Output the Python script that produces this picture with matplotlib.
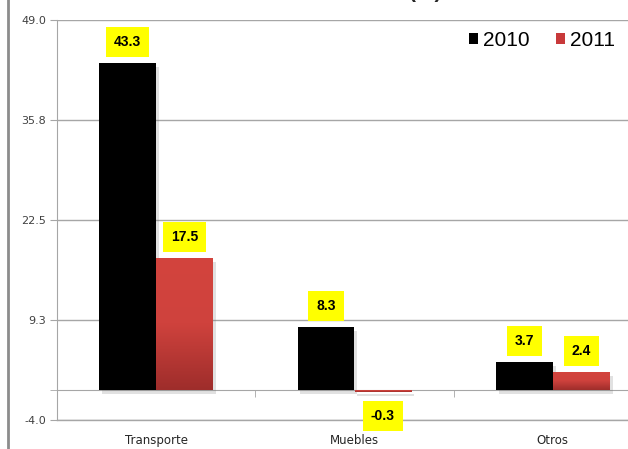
import numpy as np
import matplotlib
matplotlib.use("Agg")
import matplotlib.pyplot as plt
from matplotlib.patches import Patch
from matplotlib.lines import Line2D
import matplotlib.patheffects as pe
from matplotlib.colors import LinearSegmentedColormap

categories = ["Transporte", "Muebles", "Otros"]
series_names = ["2010", "2011"]
values_2010 = [43.3, 8.3, 3.7]
values_2011 = [17.5, -0.3, 2.4]
yticks = [-4.0, 9.3, 22.5, 35.8, 49.0]
ytick_labels = ["-4.0", "9.3", "22.5", "35.8", "49.0"]

fig = plt.figure(figsize=(6.28, 4.49), dpi=100)
ax = fig.add_axes([57/628, 1-420/449, 595/628, 400/449])
ax.set_ylim(-4.0, 49.0)
ax.set_xlim(-0.5, 2.5)

x = np.arange(len(categories))
w = 0.287
shadow = [pe.SimplePatchShadow(offset=(2, -3), shadow_rgbFace="#777777", alpha=0.22), pe.Normal()]
b1 = ax.bar(x - w/2, values_2010, w, color="black", zorder=3, path_effects=shadow)
b2 = ax.bar(x + w/2, values_2011, w, color="#c0392f", zorder=3, path_effects=shadow)

# gradient on red bars
cmap = LinearSegmentedColormap.from_list("rg", ["#9e2d2b", "#cf423d", "#d3443e"])
grad = np.linspace(0, 1, 256).reshape(-1, 1)
for bar in b2:
    x0, y0 = bar.get_x(), bar.get_y()
    bw, bh = bar.get_width(), bar.get_height()
    ylo, yhi = min(y0, y0 + bh), max(y0, y0 + bh)
    im = ax.imshow(grad, cmap=cmap, origin="lower", aspect="auto",
                   extent=(x0, x0 + bw, ylo, yhi), zorder=3.5)
    im.set_clip_path(bar)
ax.set_xlim(-0.5, 2.5)
ax.set_ylim(-4.0, 49.0)

# labels
for bars, vals in ((b1, values_2010), (b2, values_2011)):
    for bar, v in zip(bars, vals):
        off = 15 if v >= 0 else -17
        ax.annotate(f"{v:.1f}", (bar.get_x() + bar.get_width()/2, v),
                    xytext=(0, off), textcoords="offset points",
                    ha="center", va="center", fontsize=10, fontweight="bold",
                    family="Liberation Sans", color="black", zorder=5,
                    bbox=dict(boxstyle="square,pad=0.58", fc="#ffff00", ec="none"))

# grid and axes
ax.set_yticks(yticks)
ax.set_yticklabels(ytick_labels)
ax.set_yticks([0], minor=True)
ax.yaxis.grid(True, color="#a6a6a6", linewidth=1, zorder=0)
ax.axhline(yticks[0], color="#a6a6a6", linewidth=1, zorder=0, clip_on=False)
ax.set_axisbelow(True)
ax.tick_params(axis="y", which="major", direction="out", length=5, color="#a6a6a6",
               labelsize=8, labelcolor="#404040", pad=3)
ax.tick_params(axis="y", which="minor", direction="out", length=5, color="#a6a6a6")
for t in ax.get_yticklabels():
    t.set_family("DejaVu Sans")

ax.spines["top"].set_visible(False)
ax.spines["right"].set_visible(False)
ax.spines["left"].set_color("#a6a6a6")
ax.spines["bottom"].set_position(("data", 0))
ax.spines["bottom"].set_color("#a6a6a6")
ax.spines["bottom"].set_zorder(2)

ax.set_xticks(x)
ax.set_xticklabels(categories)
ax.set_xticks([0.5, 1.5], minor=True)
ax.tick_params(axis="x", which="major", length=0, pad=32, labelsize=8.5, labelcolor="#262626")
ax.tick_params(axis="x", which="minor", direction="out", length=5, color="#a6a6a6")

# legend
handles = [Patch(facecolor="black", label=series_names[0]),
           Patch(facecolor="#c8393a", label=series_names[1])]
leg = ax.legend(handles=handles, loc="upper right",
                ncol=2, frameon=False, handlelength=0.42, handleheight=0.42,
                handletextpad=0.25, columnspacing=1.25, borderaxespad=0, borderpad=0,
                prop={"family": "Liberation Sans", "size": 15})
leg.set_bbox_to_anchor((615/628, 1-31/449), transform=fig.transFigure)

# partially visible title
fig.text(442/628, 1.0 + 7/449, "(%)", ha="right", va="center", fontsize=15,
         fontweight="bold", family="Liberation Sans", color="#262626")

# left border line of the chart area
fig.add_artist(Line2D([8/628, 8/628], [0, 1], transform=fig.transFigure,
                      color="#8c8c8c", linewidth=2))

fig.savefig("out.png", dpi=100)
